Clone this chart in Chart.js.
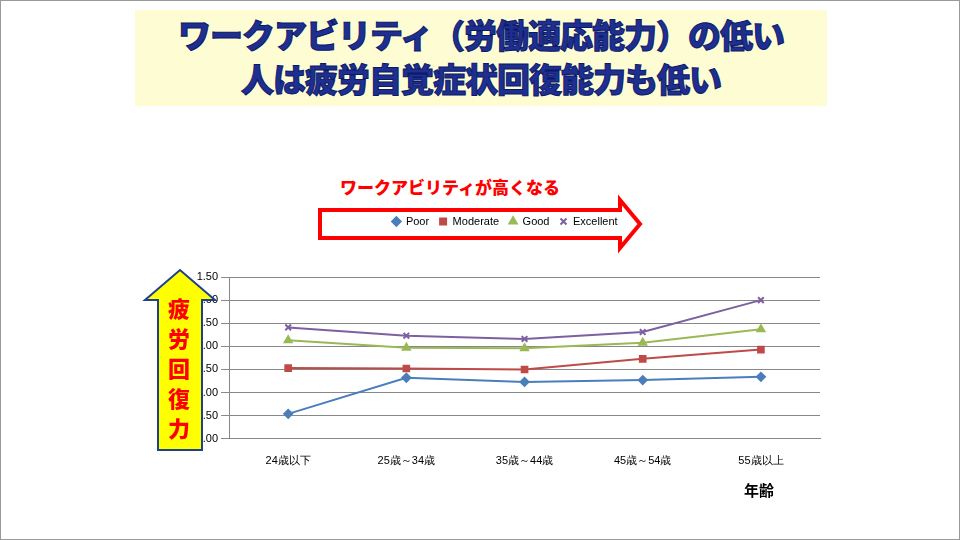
<!DOCTYPE html>
<html><head><meta charset="utf-8">
<script src="https://cdn.jsdelivr.net/npm/chart.js@4"></script>
<style>
body{margin:0;width:960px;height:540px;background:#fff;position:relative;overflow:hidden;font-family:"Noto Sans CJK JP",sans-serif}
#frame{position:absolute;left:0;top:0;width:958px;height:538px;border:1px solid #999}
#title{position:absolute;left:135px;top:10px;width:692px;height:96px;background:#fdfcd2;text-align:center;font-size:33px;font-weight:900;line-height:44px;padding-top:2px;box-sizing:border-box;color:#1f2f8f;-webkit-text-stroke:1px #0a1a6a;white-space:nowrap;letter-spacing:-1px}
#sub{position:absolute;left:340px;top:174px;font-size:17px;font-weight:900;color:#ff0000}
#age{position:absolute;left:744px;top:479px;font-size:15px;font-weight:bold}
svg{position:absolute;left:0;top:0}
#wrap{position:absolute;left:190px;top:206px;width:640px;height:270px}
#yl{position:absolute;left:163px;top:292px;width:32px;font-size:22px;font-weight:900;color:#ff0000;line-height:30px;text-align:center}
</style></head><body>
<div id="frame"></div>
<div id="title">ワークアビリティ（労働適応能力）の低い<br>人は疲労自覚症状回復能力も低い</div>
<div id="sub">ワークアビリティが高くなる</div>
<svg width="960" height="540">
<polygon points="320,210 620,210 620,200 640,224 620,248 620,238 320,238" fill="#fff" stroke="#ff0000" stroke-width="4"/>
</svg>
<div id="wrap"><canvas id="c"></canvas></div>
<svg width="960" height="540">
<polygon points="158,450 158,300 145,300 180,270 215,300 202,300 202,450" fill="#ffff00" stroke="#1f3f8f" stroke-width="2"/>
</svg>
<div id="yl">疲<br>労<br>回<br>復<br>力</div>
<div id="age">年齢</div>
<script>
const ages = ["24歳以下", "25歳～34歳", "35歳～44歳", "45歳～54歳", "55歳以上"];
const poor = [-1.46, -0.68, -0.77, -0.73, -0.66];
const moderate = [-0.47, -0.48, -0.50, -0.27, -0.07];
const good = [0.13, -0.03, -0.04, 0.08, 0.37];
const excellent = [0.41, 0.23, 0.16, 0.31, 1.00];

function ds(label, data, color, style) {
  return {label: label, data: data, borderColor: color, backgroundColor: color, pointStyle: style,
    pointRadius: 4, borderWidth: 2, fill: false, tension: 0};
}
new Chart(document.getElementById("c"), {
  type: 'line',
  data: {
    labels: ages,
    datasets: [
      ds("Poor", poor, "#4a7ebb", "rectRot"),
      ds("Moderate", moderate, "#be4b48", "rect"),
      ds("Good", good, "#98b954", "triangle"),
      ds("Excellent", excellent, "#7d60a0", "crossRot")
    ]
  },
  options: {
    responsive: true, maintainAspectRatio: false, animation: false,
    layout: {padding: {right: 10}},
    plugins: {
      legend: {position: 'top', align: 'center',
        labels: {usePointStyle: true, boxWidth: 8, boxHeight: 6, padding: 10, color: '#000',
          font: {size: 11, family: 'Liberation Sans'}}},
      tooltip: {enabled: false}
    },
    scales: {
      y: {min: -2, max: 1.5, ticks: {stepSize: 0.5, color: '#000', font: {size: 11},
            callback: v => v.toFixed(2).replace(/^0\./, '.').replace(/^-0\./, '-.')},
          grid: {color: '#888'}, border: {color: '#888'}},
      x: {offset: true, ticks: {color: '#000', font: {size: 11}, padding: 8},
          grid: {display: false}, border: {color: '#888'}}
    }
  },
  plugins: [{
    id: 'legendGap',
    beforeInit(chart) {
      const fit = chart.legend.fit;
      chart.legend.fit = function () { fit.bind(chart.legend)(); this.height += 40; };
    }
  }]
});
</script>
</body></html>
